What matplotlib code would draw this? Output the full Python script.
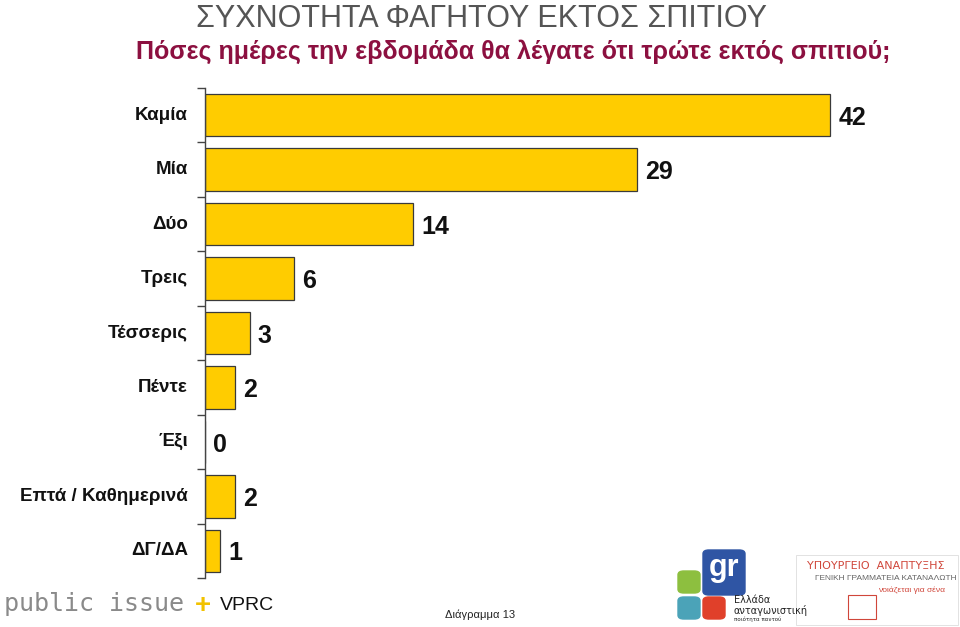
import matplotlib
matplotlib.use("Agg")
import matplotlib.pyplot as plt
from matplotlib.patches import Rectangle, FancyBboxPatch

# data
categories = ["Καμία", "Μία", "Δύο", "Τρεις", "Τέσσερις", "Πέντε", "Έξι",
              "Επτά / Καθημερινά", "ΔΓ/ΔΑ"]
values = [42, 29, 14, 6, 3, 2, 0, 2, 1]

title = "ΣΥΧΝΟΤΗΤΑ ΦΑΓΗΤΟΥ ΕΚΤΟΣ ΣΠΙΤΙΟΥ"
subtitle = "Πόσες ημέρες την εβδομάδα θα λέγατε ότι τρώτε εκτός σπιτιού;"

plt.rcParams["font.family"] = ["Liberation Sans", "DejaVu Sans"]

fig = plt.figure(figsize=(9.6, 6.27), dpi=100)
ax = fig.add_axes([205 / 960, 1 - 578 / 627, 744 / 960, 490 / 627])

pos = list(range(len(categories)))
ax.barh(pos, values, height=0.78, color="#FFCC00", edgecolor="#3a3a3a", linewidth=0.9)
ax.set_ylim(len(categories) - 0.5, -0.5)
ax.set_xlim(0, 50)

# value labels
for p, v in zip(pos, values):
    ax.text(v + 0.55, p + 0.05, str(v), va="center", ha="left",
            fontsize=18, fontweight="bold", color="#111111")

# category labels
for p, c in zip(pos, categories):
    ax.text(-1.15, p, c, va="center", ha="right", fontsize=13.5,
            fontweight="bold", color="#111111")

ax.set_yticks([i - 0.5 for i in range(len(categories) + 1)])
ax.set_yticklabels([])
ax.tick_params(axis="y", direction="out", length=6, width=1, color="#444444")
ax.set_xticks([])
for s in ["top", "right", "bottom"]:
    ax.spines[s].set_visible(False)
ax.spines["left"].set_color("#444444")
ax.spines["left"].set_linewidth(1)

# titles
fig.text(482 / 960, 1 - 19 / 627, title, ha="center", va="center",
         fontsize=22, color="#555555")
fig.text(513 / 960, 1 - 52 / 627, subtitle, ha="center", va="center",
         fontsize=18, fontweight="bold", color="#8C1040")

# footer: left logo
fig.text(4 / 960, 1 - 604 / 627, "public issue", ha="left", va="center",
         fontsize=18, color="#8a8a8a", family=["DejaVu Sans Mono", "DejaVu Sans"])
fig.text(203 / 960, 1 - 606 / 627, "+", ha="center", va="center",
         fontsize=20, fontweight="bold", color="#F2C200")
fig.text(220 / 960, 1 - 606 / 627, "VPRC", ha="left", va="center",
         fontsize=14, color="#111111")

fig.text(445 / 960, 1 - 615 / 627, "Διάγραμμα 13", ha="left", va="center",
         fontsize=8, color="#222222")

# footer: right logos (approximate)
def box(x, y, w, h, col):
    fig.patches.append(FancyBboxPatch((x / 960, 1 - (y + h) / 627), w / 960, h / 627,
                                      boxstyle="round,pad=0,rounding_size=0.006",
                                      transform=fig.transFigure, color=col))

box(678, 571, 22, 22, "#8DBF3F")
box(703, 550, 42, 45, "#2F55A4")
box(678, 597, 22, 22, "#4BA3B8")
box(703, 597, 22, 22, "#E0402A")
fig.text(724 / 960, 1 - 568 / 627, "gr", ha="center", va="center",
         fontsize=22, fontweight="bold", color="white")
fig.text(734 / 960, 1 - 600 / 627, "Ελλάδα", ha="left", va="center",
         fontsize=7, color="#222222", family=["DejaVu Sans"])
fig.text(734 / 960, 1 - 610 / 627, "ανταγωνιστική", ha="left", va="center",
         fontsize=7, color="#222222", family=["DejaVu Sans"])
fig.text(734 / 960, 1 - 619 / 627, "ποιότητα παντού", ha="left", va="center",
         fontsize=4, color="#222222", family=["DejaVu Sans"])

fig.patches.append(Rectangle((796 / 960, 1 - 625 / 627), 162 / 960, 70 / 627,
                             transform=fig.transFigure, facecolor="white",
                             edgecolor="#dddddd", linewidth=0.6))
fig.text(876 / 960, 1 - 566 / 627, "ΥΠΟΥΡΓΕΙΟ  ΑΝΑΠΤΥΞΗΣ", ha="center", va="center",
         fontsize=8, color="#D0463A", family=["DejaVu Sans"])
fig.text(886 / 960, 1 - 578 / 627, "ΓΕΝΙΚΗ ΓΡΑΜΜΑΤΕΙΑ ΚΑΤΑΝΑΛΩΤΗ", ha="center",
         va="center", fontsize=6, color="#666666")
fig.text(912 / 960, 1 - 590 / 627, "νοιάζεται για σένα", ha="center", va="center",
         fontsize=6, color="#D0463A")
fig.patches.append(Rectangle((848 / 960, 1 - 619 / 627), 28 / 960, 24 / 627,
                             transform=fig.transFigure, facecolor="white",
                             edgecolor="#D0463A", linewidth=0.8))

fig.savefig("out.png", dpi=100)
